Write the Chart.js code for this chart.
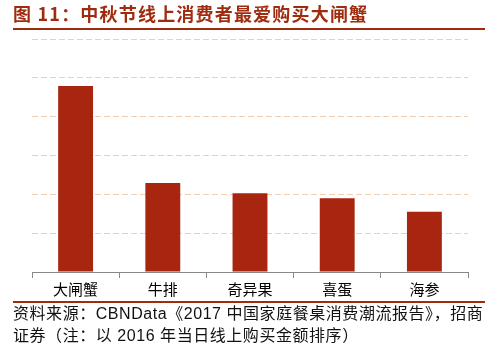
<!DOCTYPE html>
<html><head><meta charset="utf-8">
<script src="https://cdn.jsdelivr.net/npm/chart.js@4/dist/chart.umd.min.js"></script>
<style>
html,body{margin:0;padding:0;background:#fff;}
#wrap{position:relative;width:492px;height:356px;overflow:hidden;font-family:"Noto Sans CJK SC","Noto Sans",sans-serif;}
#c{position:absolute;left:0;top:0;}
#title{position:absolute;left:13px;top:2px;font-size:18px;font-weight:bold;color:#a02c10;white-space:nowrap;line-height:22px;letter-spacing:1.2px;}
.rule{position:absolute;left:13px;width:472px;height:2px;background:#a02c10;}
#src{position:absolute;left:13px;top:303px;font-size:16px;color:#111;line-height:22px;white-space:nowrap;letter-spacing:0.55px;font-family:"Liberation Sans","Noto Sans CJK SC",sans-serif;}
</style></head>
<body><div id="wrap">
<canvas id="c" width="492" height="356"></canvas>
<div id="title">图 11：中秋节线上消费者最爱购买大闸蟹</div>
<div class="rule" style="top:28px"></div>
<div class="rule" style="top:301px"></div>
<div id="src">资料来源：CBNData《2017 中国家庭餐桌消费潮流报告》，招商<br>证券（注：以 2016 年当日线上购买金额排序）</div>
</div>
<script>
const categories = ["大闸蟹","牛排","奇异果","喜蛋","海参"];
const values = [4.79, 2.29, 2.03, 1.90, 1.55];
const yMax = 6;
new Chart(document.getElementById('c'), {
  type: 'bar',
  data: { labels: categories, datasets: [{ data: values, backgroundColor: '#a8250f', barPercentage: 0.4, categoryPercentage: 1.0 }] },
  options: {
    responsive: false, animation: false,
    layout: { padding: { left: 32, right: 24, top: 39, bottom: 56 } },
    plugins: { legend: { display: false }, tooltip: { enabled: false } },
    scales: {
      x: {
        grid: { display: true, drawOnChartArea: false, drawTicks: true, tickLength: 6, color: '#888', offset: true },
        border: { display: true, color: '#888', width: 1 },
        ticks: { color: '#000', font: { family: '"Noto Sans CJK SC"', size: 15 }, padding: 2 }
      },
      y: {
        min: 0, max: yMax,
        ticks: { display: false, stepSize: 1 },
        grid: { color: '#f3cdb0', lineWidth: 1, drawTicks: false },
        border: { display: false, dash: [6, 3] }
      }
    }
  }
});
</script>
</body></html>
